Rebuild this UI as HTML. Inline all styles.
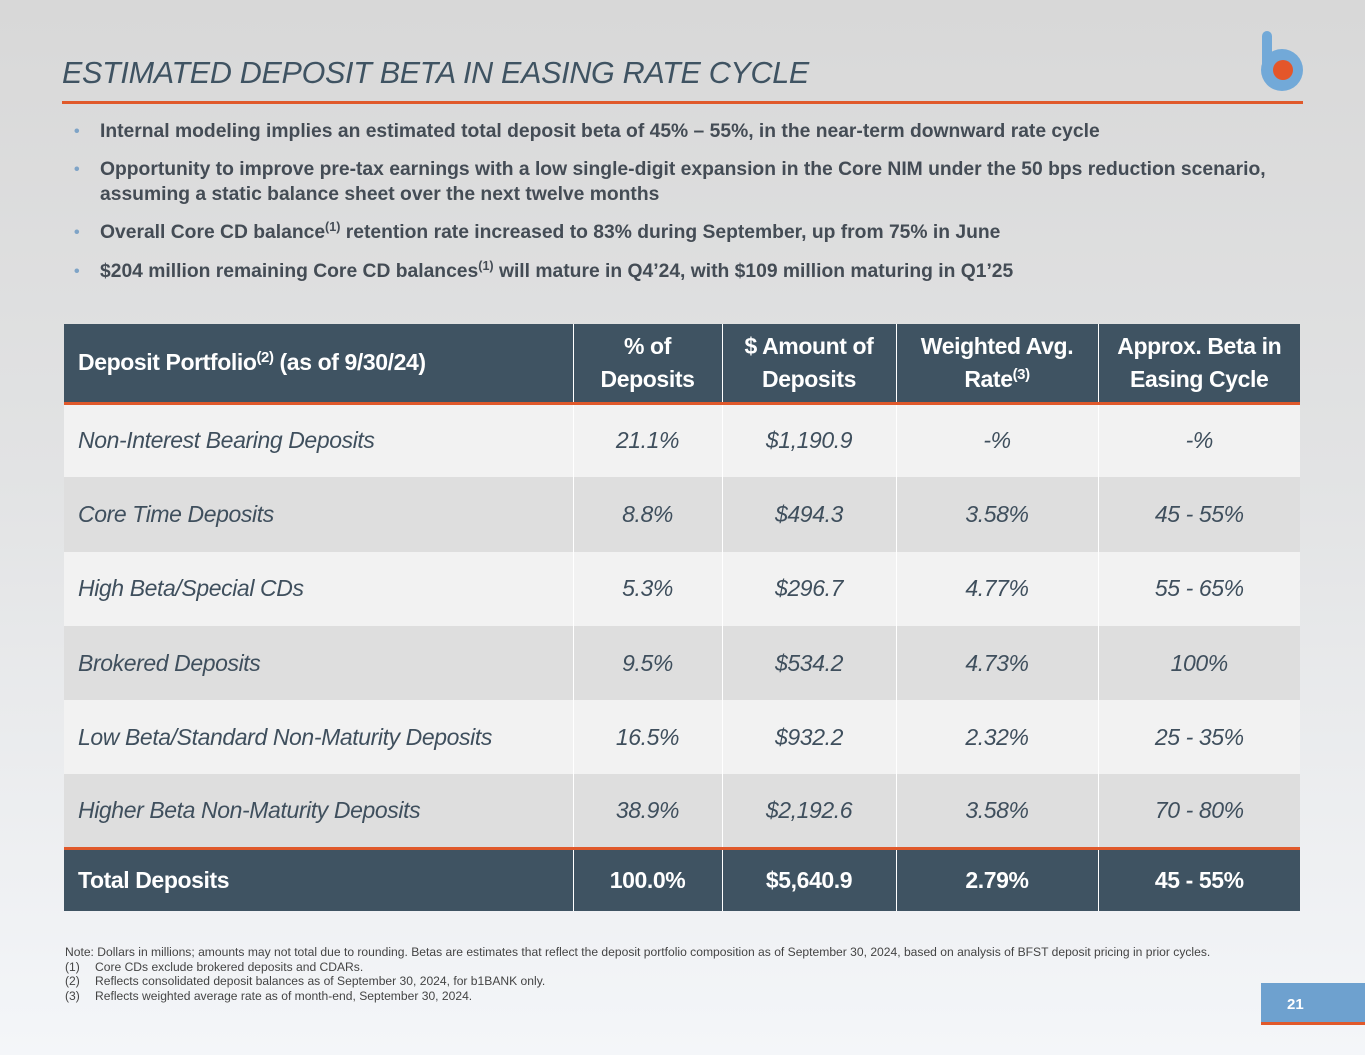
<!DOCTYPE html>
<html><head><meta charset="utf-8"><style>
*{margin:0;padding:0;box-sizing:border-box}
body{width:1365px;height:1055px;overflow:hidden;position:relative;font-family:"Liberation Sans",sans-serif;background:linear-gradient(180deg,#d8d8d8 0%,#e2e3e4 45%,#f4f6f9 100%)}
.abs{position:absolute}
#title{left:62px;top:56px;font-size:30.5px;font-style:italic;color:#3f5362;letter-spacing:-0.3px}
#rule{left:62px;top:101px;width:1241px;height:3px;background:#e0592b}
.bul{position:absolute;left:100px;font-size:19.3px;font-weight:bold;color:#444c55;line-height:25px}
.bul::before{content:"•";position:absolute;left:-26px;color:#7fa4c7;font-size:16px}
sup{font-size:0.65em;vertical-align:0.55em;line-height:0}
table{position:absolute;left:64px;top:324px;border-collapse:collapse;width:1236px;table-layout:fixed}
td,th{border-left:1.5px solid #fff;border-right:1.5px solid #fff;padding:0 14px;white-space:nowrap;overflow:hidden}
th{background:#3f5362;color:#fff;font-size:23px;font-weight:bold;height:79px;text-align:center;line-height:33px;border-bottom:3px solid #e0592b;letter-spacing:-0.4px}
th:first-child,td:first-child{text-align:left;border-left:none}
th:last-child,td:last-child{border-right:none}
td{height:74.3px;font-size:23px;font-style:italic;color:#3f4f5d;text-align:center;letter-spacing:-0.4px}
tr.o td{background:#f2f2f2}tr.e td{background:#dedede}
tr.t td{background:#3f5362;color:#fff;font-style:normal;font-weight:bold;height:62px;border-top:3px solid #e0592b}
#notes{left:65px;top:945px;font-size:12.1px;color:#444;line-height:14.5px}
#notes span{display:inline-block;width:30px}
#pg{left:1261px;top:983px;width:104px;height:42px;background:#6ea1cf;color:#fff;font-weight:bold;font-size:15px;padding:13px 0 0 26px;border-bottom:3px solid #e0592b}
</style></head><body>
<div id="title" class="abs">ESTIMATED DEPOSIT BETA IN EASING RATE CYCLE</div>
<div id="rule" class="abs"></div>
<svg class="abs" style="left:1255px;top:28px" width="52" height="68">
<line x1="12" y1="8" x2="12" y2="42" stroke="#72a9d8" stroke-width="10" stroke-linecap="round"/>
<circle cx="27" cy="42" r="21" fill="#72a9d8"/><circle cx="28" cy="42" r="10" fill="#e4562a"/></svg>
<div class="bul" style="top:119px">Internal modeling implies an estimated total deposit beta of 45% – 55%, in the near-term downward rate cycle</div>
<div class="bul" style="top:157px;width:1210px">Opportunity to improve pre-tax earnings with a low single-digit expansion in the Core NIM under the 50 bps reduction scenario, assuming a static balance sheet over the next twelve months</div>
<div class="bul" style="top:220px">Overall Core CD balance<sup>(1)</sup> retention rate increased to 83% during September, up from 75% in June</div>
<div class="bul" style="top:259px">$204 million remaining Core CD balances<sup>(1)</sup> will mature in Q4’24, with $109 million maturing in Q1’25</div>
<table>
<colgroup><col style="width:509px"><col style="width:149px"><col style="width:174px"><col style="width:202px"><col style="width:202px"></colgroup>
<tr><th>Deposit Portfolio<sup>(2)</sup> (as of 9/30/24)</th><th>% of<br>Deposits</th><th>$ Amount of<br>Deposits</th><th>Weighted Avg.<br>Rate<sup>(3)</sup></th><th>Approx. Beta in<br>Easing Cycle</th></tr>
<tr class="o"><td>Non-Interest Bearing Deposits</td><td>21.1%</td><td>$1,190.9</td><td>-%</td><td>-%</td></tr>
<tr class="e"><td>Core Time Deposits</td><td>8.8%</td><td>$494.3</td><td>3.58%</td><td>45 - 55%</td></tr>
<tr class="o"><td>High Beta/Special CDs</td><td>5.3%</td><td>$296.7</td><td>4.77%</td><td>55 - 65%</td></tr>
<tr class="e"><td>Brokered Deposits</td><td>9.5%</td><td>$534.2</td><td>4.73%</td><td>100%</td></tr>
<tr class="o"><td>Low Beta/Standard Non-Maturity Deposits</td><td>16.5%</td><td>$932.2</td><td>2.32%</td><td>25 - 35%</td></tr>
<tr class="e"><td>Higher Beta Non-Maturity Deposits</td><td>38.9%</td><td>$2,192.6</td><td>3.58%</td><td>70 - 80%</td></tr>
<tr class="t"><td>Total Deposits</td><td>100.0%</td><td>$5,640.9</td><td>2.79%</td><td>45 - 55%</td></tr>
</table>
<div id="notes" class="abs">Note: Dollars in millions; amounts may not total due to rounding. Betas are estimates that reflect the deposit portfolio composition as of September 30, 2024, based on analysis of BFST deposit pricing in prior cycles.<br><span>(1)</span>Core CDs exclude brokered deposits and CDARs.<br><span>(2)</span>Reflects consolidated deposit balances as of September 30, 2024, for b1BANK only.<br><span>(3)</span>Reflects weighted average rate as of month-end, September 30, 2024.</div>
<div id="pg" class="abs">21</div>
</body></html>
